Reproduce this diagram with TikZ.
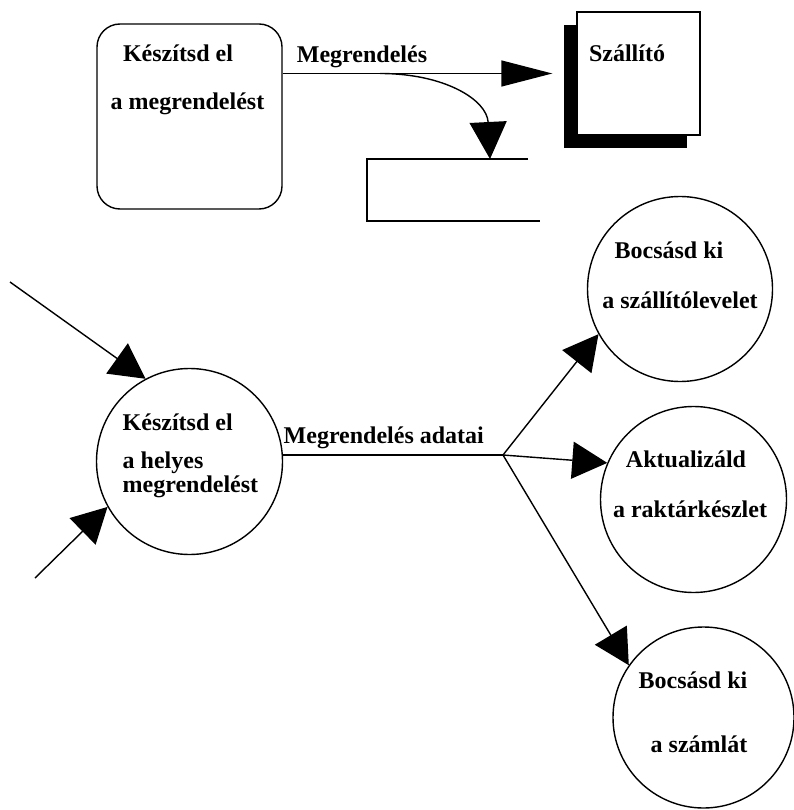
\documentclass[tikz,border=0pt]{standalone}
\usepackage{fontspec}
\setmainfont{Liberation Serif}
\usetikzlibrary{arrows.meta,shadows}

\tikzset{
  folyamat/.style={draw,circle,fill=white,minimum size=#1,inner sep=0pt},
  felirat/.style={font=\bfseries\fontsize{24}{28}\selectfont,anchor=base,inner sep=0pt},
  nyil/.style={-{Triangle[length=35pt,width=37pt]}},
}

\begin{document}
\begin{tikzpicture}[x=1pt,y=-1pt,line width=1.4pt]
	\useasboundingbox (0,0) rectangle (793,810);
	% felso resz: rendeles a szallitonak
	\node[draw,fill=white,rounded corners=23pt,minimum width=185pt,minimum height=185pt] (rendel) at (189.5,116.5) {};
	\node[draw,fill=white,minimum size=123pt,
		drop shadow={shadow xshift=-13pt,shadow yshift=-13pt,opacity=1,fill=black}] (szallito) at (638.5,73.5) {};
	\node[felirat] at (178,62) {Készítsd el};
	\node[felirat] at (187.5,110) {a megrendelést};
	\node[felirat] at (627,62) {Szállító};
	\draw[-{Triangle[length=51pt,width=26pt]},shorten >=24pt] (rendel.east |- szallito.west) -- (szallito.west)
		node[felirat,pos=0.27,yshift=11pt] {Megrendelés};
	% adattar
	\coordinate (elag) at (380,73.5);
	\coordinate (tar) at (490,159);
	\draw (528,159) -| (367,221) -- (540,221);
	\draw[-{Triangle[length=37pt,width=37pt]}] (elag) .. controls (445,73.5) and (487,100) .. (tar);
	% also resz: folyamatok
	\node[folyamat=186pt] (helyes) at (189.5,461.5) {};
	\node[folyamat=185pt] (szlevel) at (680,289) {};
	\node[folyamat=186pt] (keszlet) at (693.5,499.5) {};
	\node[folyamat=181pt] (szamla) at (703.5,717.5) {};
	\node[felirat,anchor=base west] at (122,430) {Készítsd el};
	\node[felirat,anchor=base west] at (122,468) {a helyes};
	\node[felirat,anchor=base west] at (122,492) {megrendelést};
	\node[felirat] at (669,258) {Bocsásd ki};
	\node[felirat] at (680,308) {a szállítólevelet};
	\node[felirat] at (686,467) {Aktualizáld};
	\node[felirat] at (690,517) {a raktárkészlet};
	\node[felirat] at (693,688) {Bocsásd ki};
	\node[felirat] at (699,752) {a számlát};
	% bejovo adatfolyamok
	\coordinate (be1) at (10,282);
	\coordinate (be2) at (35,578);
	\draw[nyil] (be1) -- (helyes.118);
	\draw[nyil] (be2) -- (helyes.209);
	% megrendeles adatai
	\coordinate (csomo) at (503,455);
	\draw (helyes.east |- csomo) -- (csomo);
	\node[felirat,anchor=base west] at (283,443) {Megrendelés adatai};
	\draw[nyil] (csomo) -- (szlevel.209);
	\draw[nyil] (csomo) -- (keszlet.157);
	\draw[nyil] (csomo) -- (szamla.145);
\end{tikzpicture}
\end{document}
